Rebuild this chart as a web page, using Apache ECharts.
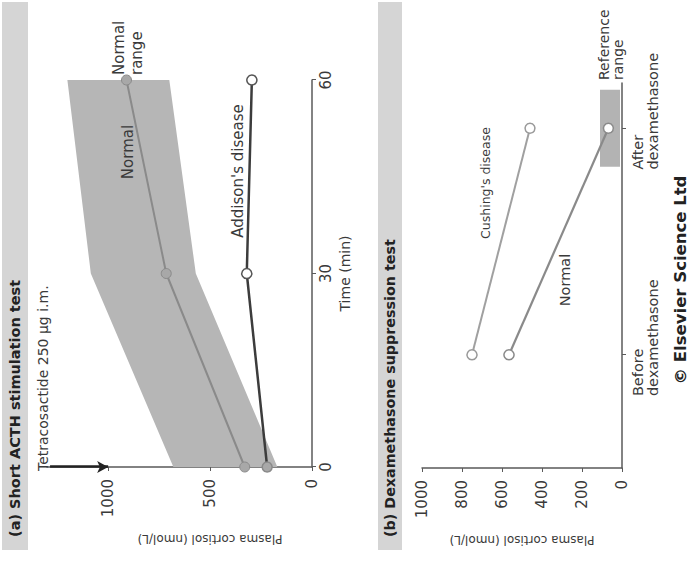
<!DOCTYPE html>
<html><head><meta charset="utf-8">
<script src="https://cdn.jsdelivr.net/npm/echarts@6/dist/echarts.min.js"></script>
<style>
html,body{margin:0;padding:0;background:#fff;overflow:hidden;width:691px;height:563px;}
#chart{position:absolute;left:0;top:0;width:563px;height:691px;transform-origin:0 0;transform:translateY(563px) rotate(-90deg);}
</style></head><body><div id="chart"></div>
<script>
// ---------- Panel (a): Short ACTH stimulation test ----------
const timeMin = [0, 30, 60];
const normalA = [330, 715, 910];
const addisonA = [220, 320, 295];
const rangeLowA = [170, 570, 700];
const rangeHighA = [680, 1085, 1200];
const cortisolTicksA = [0, 500, 1000];
const timeTicks = [0, 30, 60];
const injectionTime = 0;
const arrowFrom = 1285;
const arrowTo = 1000;

// ---------- Panel (b): Dexamethasone suppression test ----------
const categoriesB = ['Before\ndexamethasone', 'After\ndexamethasone'];
const categoryPosB = [1, 2];
const cushingB = [750, 460];
const normalB = [565, 68];
const referenceRangeB = [10, 110];
const refHalfWidth = 0.17;
const cortisolTicksB = [0, 200, 400, 600, 800, 1000];

const FONT = 'DejaVu Sans';
const TXT = '#3a3a3a';
const AX = '#5a5a5a';

const chart = echarts.init(document.getElementById('chart'), null, {renderer: 'svg'});

function txt(x, y, text, size, opts) {
  return Object.assign({
    type: 'text', x: x, y: y, z: 100,
    style: Object.assign({
      text: text, fill: TXT, font: size + 'px "' + FONT + '"',
      textAlign: 'left', textVerticalAlign: 'middle'
    }, (opts && opts.style) || {})
  }, (opts && opts.el) || {});
}
const plain = v => String(v);

const option = {
  animation: false,
  backgroundColor: '#ffffff',
  textStyle: {fontFamily: FONT},
  grid: [
    {left: 96, right: 80, top: 47, bottom: 379, outerBoundsMode: 'none', containLabel: false},
    {left: 95, right: 83, top: 422, bottom: 69, outerBoundsMode: 'none', containLabel: false}
  ],
  xAxis: [
    {
      type: 'value', gridIndex: 0, min: 0, max: 60, interval: 30,
      axisLine: {show: true, onZero: false, lineStyle: {color: AX, width: 1.5}},
      axisTick: {show: true, length: 4, lineStyle: {color: AX}, customValues: timeTicks},
      axisLabel: {color: TXT, fontSize: 15, margin: 6, customValues: timeTicks, formatter: plain},
      splitLine: {show: false},
      name: 'Time (min)', nameLocation: 'middle', nameGap: 26,
      nameTextStyle: {color: TXT, fontSize: 14}
    },
    {
      type: 'value', gridIndex: 1, min: 0.5, max: 2.2,
      axisLine: {show: true, onZero: false, lineStyle: {color: AX, width: 1.5}},
      axisTick: {show: true, length: 4, lineStyle: {color: AX}, customValues: categoryPosB},
      axisLabel: {
        customValues: categoryPosB, margin: 8, padding: [0, 0, 0, 34],
        formatter: function (v) {
          const i = categoryPosB.indexOf(v);
          if (i < 0) return '';
          return categoriesB[i].split('\n').map(s => '{l|' + s + '}').join('\n');
        },
        rich: {l: {align: 'left', fontSize: 14.5, lineHeight: 15, color: TXT, fontFamily: FONT}}
      },
      splitLine: {show: false}
    }
  ],
  yAxis: [
    {
      type: 'value', gridIndex: 0, min: 0, max: 1300,
      axisLine: {show: true, onZero: false, lineStyle: {color: AX, width: 1.5}},
      axisTick: {show: true, length: 4, lineStyle: {color: AX}, customValues: cortisolTicksA},
      axisLabel: {color: TXT, fontSize: 15, margin: 12, customValues: cortisolTicksA, formatter: plain},
      splitLine: {show: false},
      name: 'Plasma cortisol (nmol/L)', nameLocation: 'middle', nameGap: 66, nameRotate: 90,
      nameMoveOverlap: false,
      nameTextStyle: {color: TXT, fontSize: 12, padding: [0, 61, 0, 0]}
    },
    {
      type: 'value', gridIndex: 1, min: 0, max: 1000, interval: 200,
      axisLine: {show: true, onZero: false, lineStyle: {color: AX, width: 1.5}},
      axisTick: {show: true, length: 4, lineStyle: {color: AX}, customValues: cortisolTicksB},
      axisLabel: {color: TXT, fontSize: 15, margin: 12, customValues: cortisolTicksB, formatter: plain},
      splitLine: {show: false},
      name: 'Plasma cortisol (nmol/L)', nameLocation: 'middle', nameGap: 66, nameRotate: 90,
      nameMoveOverlap: false,
      nameTextStyle: {color: TXT, fontSize: 12}
    }
  ],
  series: [
    {
      name: 'Normal range', type: 'custom', xAxisIndex: 0, yAxisIndex: 0, silent: true, z: 1,
      data: timeMin.map((t, i) => [t, rangeLowA[i], rangeHighA[i]]),
      encode: {x: 0, y: [1, 2]},
      renderItem: function (params, api) {
        if (params.dataIndex !== 0) return null;
        const upper = timeMin.map((t, i) => api.coord([t, rangeHighA[i]]));
        const lower = timeMin.map((t, i) => api.coord([t, rangeLowA[i]])).reverse();
        return {type: 'polygon', shape: {points: upper.concat(lower)}, style: {fill: '#b6b6b6'}};
      }
    },
    {
      name: 'Normal', type: 'line', xAxisIndex: 0, yAxisIndex: 0, z: 3,
      data: timeMin.map((t, i) => [t, normalA[i]]),
      symbol: 'circle', symbolSize: 10, showAllSymbol: true,
      lineStyle: {color: '#8a8a8a', width: 2},
      itemStyle: {color: '#a8a8a8', borderColor: '#8a8a8a', borderWidth: 1},
      markLine: {
        silent: true, symbol: ['none', 'arrow'], symbolSize: [9, 11],
        label: {show: false},
        lineStyle: {color: '#222', width: 2.5, type: 'solid'},
        data: [[{coord: [injectionTime, arrowFrom]}, {coord: [injectionTime, arrowTo]}]]
      }
    },
    {
      name: "Addison's disease", type: 'line', xAxisIndex: 0, yAxisIndex: 0, z: 4,
      data: timeMin.map((t, i) => i === 0
        ? {value: [t, addisonA[i]], itemStyle: {color: '#a8a8a8', borderColor: '#8a8a8a'}}
        : {value: [t, addisonA[i]]}),
      symbol: 'circle', symbolSize: 10, showAllSymbol: true,
      lineStyle: {color: '#3c3c3c', width: 2.5},
      itemStyle: {color: '#ffffff', borderColor: '#555', borderWidth: 1.5}
    },
    {
      name: 'Reference range', type: 'line', xAxisIndex: 1, yAxisIndex: 1, z: 1,
      data: [], silent: true,
      markArea: {
        silent: true, itemStyle: {color: '#b3b3b3'},
        data: [[{coord: [categoryPosB[1] - refHalfWidth, referenceRangeB[0]]},
                {coord: [categoryPosB[1] + refHalfWidth, referenceRangeB[1]]}]]
      }
    },
    {
      name: "Cushing's disease", type: 'line', xAxisIndex: 1, yAxisIndex: 1, z: 3,
      data: categoryPosB.map((p, i) => [p, cushingB[i]]),
      symbol: 'circle', symbolSize: 10,
      lineStyle: {color: '#a0a0a0', width: 2},
      itemStyle: {color: '#ffffff', borderColor: '#9a9a9a', borderWidth: 1.5}
    },
    {
      name: 'Normal (b)', type: 'line', xAxisIndex: 1, yAxisIndex: 1, z: 3,
      data: categoryPosB.map((p, i) => [p, normalB[i]]),
      symbol: 'circle', symbolSize: 10,
      lineStyle: {color: '#8a8a8a', width: 2.2},
      itemStyle: {color: '#ffffff', borderColor: '#8a8a8a', borderWidth: 1.5}
    }
  ],
  graphic: [
    {type: 'rect', z: 0, shape: {x: 13, y: 2, width: 548, height: 26}, style: {fill: '#d5d5d5'}},
    {type: 'rect', z: 0, shape: {x: 13, y: 378, width: 548, height: 24}, style: {fill: '#d5d5d5'}},
    txt(26, 15, '(a) Short ACTH stimulation test', 14.5, {style: {font: 'bold 14.5px "' + FONT + '"', fill: '#222'}}),
    txt(26, 390, '(b) Dexamethasone suppression test', 14.3, {style: {font: 'bold 14.3px "' + FONT + '"', fill: '#222'}}),
    txt(92, 43, 'Tetracosactide 250 \u00b5g i.m.', 14),
    txt(411, 128, 'Normal', 15, {style: {textAlign: 'center'}}),
    txt(488, 110, 'Normal\nrange', 15, {style: {textVerticalAlign: 'top', lineHeight: 18}}),
    txt(392, 238, "Addison's disease", 15, {style: {textAlign: 'center'}}),
    txt(380, 485, "Cushing's disease", 12.5, {style: {textAlign: 'center'}}),
    txt(283, 565, 'Normal', 14.5, {style: {textAlign: 'center'}}),
    txt(483, 597, 'Reference\nrange', 14, {style: {textVerticalAlign: 'top', lineHeight: 14}}),
    txt(283, 680, '\u00a9 Elsevier Science Ltd', 16.5, {style: {textAlign: 'center', font: 'bold 16.5px "' + FONT + '"', fill: '#222'}})
  ]
};
chart.setOption(option);
</script></body></html>
